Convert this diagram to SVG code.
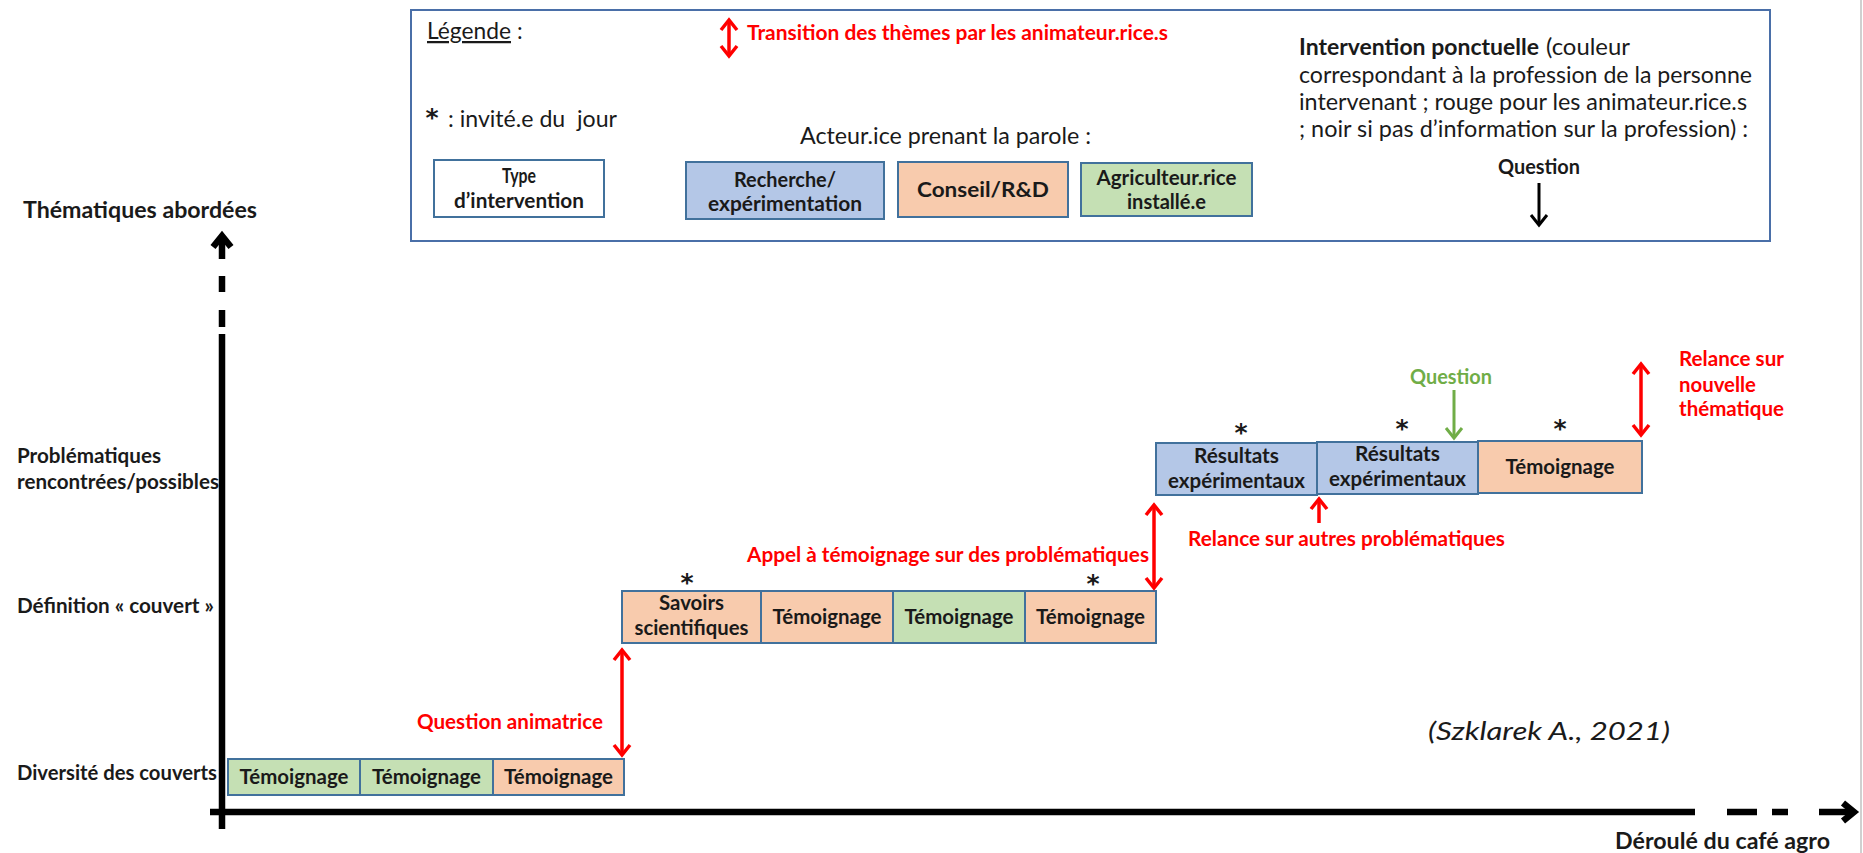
<svg xmlns="http://www.w3.org/2000/svg" width="1863" height="853" viewBox="0 0 1863 853">
<style>
text{font-family:Lato,"Liberation Sans",sans-serif;fill:#1a1a1a}
.b{font-weight:bold}
.lbl{font-size:20px;font-weight:bold;text-anchor:middle}
.row{font-size:20px;font-weight:bold}
.reg{font-size:22.5px}
.red{fill:#ff0000;font-size:20px;font-weight:bold}
.grt{fill:#70ad47;font-size:20px;font-weight:bold}
.ast{font-family:"DejaVu Sans",sans-serif;font-size:25px;font-weight:bold;text-anchor:middle}
.bx{stroke:#41719c;stroke-width:2}
.wht{fill:#ffffff}.blu{fill:#b4c7e7}.org{fill:#f8cbad}.grn{fill:#c5e0b4}
.ra{stroke:#ff0000;stroke-width:3.5;fill:none}
.ga{stroke:#70ad47;stroke-width:3;fill:none}
.ka{stroke:#000;stroke-width:3;fill:none}
.ax{stroke:#000;stroke-width:6.5;fill:none}
</style>
<defs>
<marker id="mr" viewBox="-14 -10 18 20" refX="0" refY="0" markerWidth="18" markerHeight="20" markerUnits="userSpaceOnUse" orient="auto-start-reverse" overflow="visible"><path d="M-10,-8 L0,0 L-10,8" fill="none" stroke="#ff0000" stroke-width="3.5"/></marker>
<marker id="mg" viewBox="-14 -10 18 20" refX="0" refY="0" markerWidth="18" markerHeight="20" markerUnits="userSpaceOnUse" orient="auto" overflow="visible"><path d="M-10,-8 L0,0 L-10,8" fill="none" stroke="#70ad47" stroke-width="3"/></marker>
<marker id="mk" viewBox="-14 -10 18 20" refX="0" refY="0" markerWidth="18" markerHeight="20" markerUnits="userSpaceOnUse" orient="auto" overflow="visible"><path d="M-10,-8 L0,0 L-10,8" fill="none" stroke="#000" stroke-width="3"/></marker>
<marker id="max" viewBox="-16 -14 22 28" refX="0" refY="0" markerWidth="22" markerHeight="28" markerUnits="userSpaceOnUse" orient="auto" overflow="visible"><path d="M-11,-9 L0,0 L-11,9" fill="none" stroke="#000" stroke-width="6.5"/></marker>
</defs>
<rect width="1863" height="853" fill="#ffffff"/>
<line x1="1861" y1="0" x2="1861" y2="853" stroke="#d0d0d0" stroke-width="2"/>

<g id="legend">
<rect x="411" y="10" width="1359" height="231" fill="none" stroke="#4a6fa8" stroke-width="2"/>
<text x="427" y="39" class="reg" textLength="84" lengthAdjust="spacingAndGlyphs" text-decoration="underline">Légende</text>
<text x="517" y="39" class="reg">:</text>
<line x1="729" y1="20" x2="729" y2="56" class="ra" marker-start="url(#mr)" marker-end="url(#mr)"/>
<text x="747" y="40" class="red" textLength="421" lengthAdjust="spacingAndGlyphs">Transition des thèmes par les animateur.rice.s</text>
<text x="432" y="126" class="ast">*</text>
<text x="448" y="127" class="reg" xml:space="preserve" textLength="169" lengthAdjust="spacingAndGlyphs">: invité.e du  jour</text>
<text x="800" y="144" class="reg" textLength="291" lengthAdjust="spacingAndGlyphs">Acteur.ice prenant la parole :</text>
<g id="leg-type"><rect x="434" y="160" width="170" height="57" class="bx wht"/>
<text x="519" y="183" class="lbl" textLength="34" lengthAdjust="spacingAndGlyphs">Type</text>
<text x="519" y="208" class="lbl" textLength="130" lengthAdjust="spacingAndGlyphs">d’intervention</text></g>
<g id="leg-recherche"><rect x="686" y="162" width="198" height="57" class="bx blu"/>
<text x="785" y="187" class="lbl" textLength="102" lengthAdjust="spacingAndGlyphs">Recherche/</text>
<text x="785" y="211" class="lbl" textLength="154" lengthAdjust="spacingAndGlyphs">expérimentation</text></g>
<g id="leg-conseil"><rect x="898" y="162" width="170" height="55" class="bx org"/>
<text x="983" y="197" class="lbl" textLength="132" lengthAdjust="spacingAndGlyphs">Conseil/R&amp;D</text></g>
<g id="leg-agri"><rect x="1081" y="163" width="171" height="53" class="bx grn"/>
<text x="1166.5" y="185" class="lbl" textLength="140" lengthAdjust="spacingAndGlyphs">Agriculteur.rice</text>
<text x="1166.5" y="209" class="lbl" textLength="79" lengthAdjust="spacingAndGlyphs">installé.e</text></g>
<text x="1299" y="55" class="reg b" textLength="240" lengthAdjust="spacingAndGlyphs">Intervention ponctuelle</text>
<text x="1546" y="55" class="reg" textLength="84" lengthAdjust="spacingAndGlyphs">(couleur</text>
<text x="1299" y="83" class="reg" textLength="453" lengthAdjust="spacingAndGlyphs">correspondant à la profession de la personne</text>
<text x="1299" y="110" class="reg" textLength="448" lengthAdjust="spacingAndGlyphs">intervenant ; rouge pour les animateur.rice.s</text>
<text x="1299" y="137" class="reg" textLength="449" lengthAdjust="spacingAndGlyphs">; noir si pas d’information sur la profession) :</text>
<text x="1539" y="174" class="lbl" textLength="82" lengthAdjust="spacingAndGlyphs">Question</text>
<line x1="1539" y1="183" x2="1539" y2="225" class="ka" marker-end="url(#mk)"/>
</g>

<g id="axes">
<text x="23" y="218" class="b" style="font-size:22.6px" textLength="234" lengthAdjust="spacingAndGlyphs">Thématiques abordées</text>
<line x1="222" y1="259" x2="222" y2="236" class="ax" marker-end="url(#max)"/>
<line x1="222" y1="276" x2="222" y2="292" class="ax"/>
<line x1="222" y1="310" x2="222" y2="327" class="ax"/>
<line x1="222" y1="334" x2="222" y2="829" class="ax"/>
<line x1="210" y1="812" x2="1695" y2="812" class="ax"/>
<line x1="1727" y1="812" x2="1757" y2="812" class="ax"/>
<line x1="1772" y1="812" x2="1788" y2="812" class="ax"/>
<line x1="1819" y1="812" x2="1854" y2="812" class="ax" marker-end="url(#max)"/>
<text x="1615" y="849" class="b" style="font-size:22.8px" textLength="215" lengthAdjust="spacingAndGlyphs">Déroulé du café agro</text>
<text x="17" y="463" class="row" textLength="144" lengthAdjust="spacingAndGlyphs">Problématiques</text>
<text x="17" y="489" class="row" textLength="202" lengthAdjust="spacingAndGlyphs">rencontrées/possibles</text>
<text x="17" y="613" class="row" textLength="197" lengthAdjust="spacingAndGlyphs">Définition « couvert »</text>
<text x="17" y="780" class="row" textLength="200" lengthAdjust="spacingAndGlyphs">Diversité des couverts</text>
</g>

<g id="row1">
<g id="r1a"><rect x="228" y="759" width="132" height="36" class="bx grn"/><text x="294" y="784" class="lbl" textLength="109" lengthAdjust="spacingAndGlyphs">Témoignage</text></g>
<g id="r1b"><rect x="360" y="759" width="133" height="36" class="bx grn"/><text x="426.5" y="784" class="lbl" textLength="109" lengthAdjust="spacingAndGlyphs">Témoignage</text></g>
<g id="r1c"><rect x="493" y="759" width="131" height="36" class="bx org"/><text x="558.5" y="784" class="lbl" textLength="109" lengthAdjust="spacingAndGlyphs">Témoignage</text></g>
</g>

<g id="row2">
<g id="r2a"><rect x="622" y="591" width="139" height="52" class="bx org"/><text x="691.5" y="610" class="lbl" textLength="65" lengthAdjust="spacingAndGlyphs">Savoirs</text><text x="691.5" y="635" class="lbl" textLength="114" lengthAdjust="spacingAndGlyphs">scientifiques</text><text x="687" y="591" class="ast">*</text></g>
<g id="r2b"><rect x="761" y="591" width="132" height="52" class="bx org"/><text x="827" y="624" class="lbl" textLength="109" lengthAdjust="spacingAndGlyphs">Témoignage</text></g>
<g id="r2c"><rect x="893" y="591" width="132" height="52" class="bx grn"/><text x="959" y="624" class="lbl" textLength="109" lengthAdjust="spacingAndGlyphs">Témoignage</text></g>
<g id="r2d"><rect x="1025" y="591" width="131" height="52" class="bx org"/><text x="1090.5" y="624" class="lbl" textLength="109" lengthAdjust="spacingAndGlyphs">Témoignage</text><text x="1093" y="592" class="ast">*</text></g>
</g>

<g id="row3">
<g id="r3a"><rect x="1156" y="443" width="161" height="52" class="bx blu"/><text x="1236.5" y="463" class="lbl" textLength="85" lengthAdjust="spacingAndGlyphs">Résultats</text><text x="1236.5" y="488" class="lbl" textLength="137" lengthAdjust="spacingAndGlyphs">expérimentaux</text><text x="1241" y="441" class="ast">*</text></g>
<g id="r3b"><rect x="1317" y="442" width="161" height="52" class="bx blu"/><text x="1397.5" y="461" class="lbl" textLength="85" lengthAdjust="spacingAndGlyphs">Résultats</text><text x="1397.5" y="486" class="lbl" textLength="137" lengthAdjust="spacingAndGlyphs">expérimentaux</text><text x="1402" y="437" class="ast">*</text></g>
<g id="r3c"><rect x="1478" y="441" width="164" height="52" class="bx org"/><text x="1560" y="474" class="lbl" textLength="109" lengthAdjust="spacingAndGlyphs">Témoignage</text><text x="1560" y="437" class="ast">*</text></g>
</g>

<g id="connectors">
<line x1="622" y1="650" x2="622" y2="755" class="ra" marker-start="url(#mr)" marker-end="url(#mr)"/>
<line x1="1154" y1="505" x2="1154" y2="588" class="ra" marker-start="url(#mr)" marker-end="url(#mr)"/>
<line x1="1319" y1="523" x2="1319" y2="499" class="ra" marker-end="url(#mr)"/>
<line x1="1641" y1="364" x2="1641" y2="435" class="ra" marker-start="url(#mr)" marker-end="url(#mr)"/>
<line x1="1454" y1="390" x2="1454" y2="438" class="ga" marker-end="url(#mg)"/>
</g>

<g id="labels">
<text x="417" y="729" class="red" textLength="186" lengthAdjust="spacingAndGlyphs">Question animatrice</text>
<text x="747" y="562" class="red" textLength="402" lengthAdjust="spacingAndGlyphs">Appel à témoignage sur des problématiques</text>
<text x="1188" y="546" class="red" textLength="317" lengthAdjust="spacingAndGlyphs">Relance sur autres problématiques</text>
<text x="1679" y="366" class="red" textLength="105" lengthAdjust="spacingAndGlyphs">Relance sur</text>
<text x="1679" y="392" class="red" textLength="77" lengthAdjust="spacingAndGlyphs">nouvelle</text>
<text x="1679" y="416" class="red" textLength="105" lengthAdjust="spacingAndGlyphs">thématique</text>
<text x="1410" y="384" class="grt" textLength="82" lengthAdjust="spacingAndGlyphs">Question</text>
<text x="1428" y="740" style="font-size:25px;font-style:italic" textLength="242" lengthAdjust="spacingAndGlyphs">(Szklarek A., 2021)</text>
</g>
</svg>
